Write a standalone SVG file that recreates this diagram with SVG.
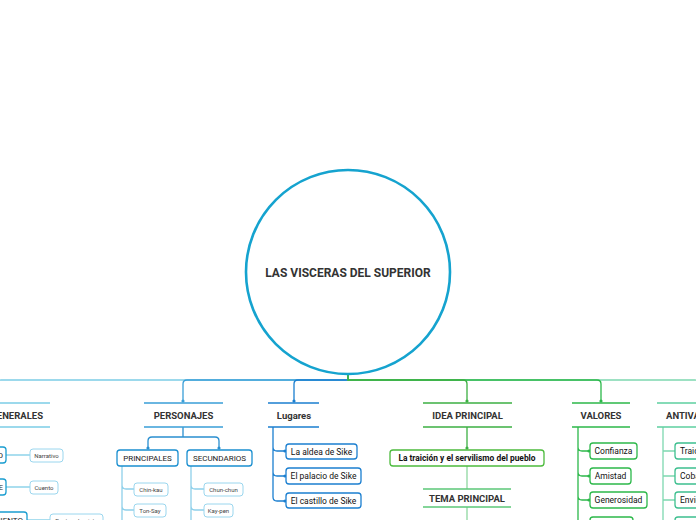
<svg xmlns="http://www.w3.org/2000/svg" width="696" height="520" viewBox="0 0 696 520">
<style>
text{font-family:Roboto,"Liberation Sans",sans-serif;fill:#333}
.h{font-size:9.5px;font-weight:bold;text-anchor:middle}
.b{font-size:8px;text-anchor:middle;fill:#222}
.l{font-size:8.5px;text-anchor:middle;fill:#111}
.s{font-size:6px;text-anchor:middle;fill:#444}
.c{fill:none;stroke-width:1.3}
.box{fill:#fff;stroke-width:1.3}
.sb{fill:#fff;stroke-width:1}
</style>
<rect width="696" height="520" fill="#fff"/>
<g id="connectors">
<path class="c" stroke="#7ccde6" d="M348,374V380H1Q-3,380 -3,384V402"/>
<path class="c" stroke="#3a9fd8" d="M348,374V380H187Q183,380 183,384V401"/>
<path class="c" stroke="#1b7fd0" d="M348,374V380H298Q294,380 294,384V401"/>
<path class="c" stroke="#7dd8b0" d="M348,374V380H695Q699,380 699,384V401"/>
<path class="c" stroke="#2cb84a" d="M348,374V380H597Q601,380 601,384V401"/>
<path class="c" stroke="#3cb043" d="M348,374V380H463Q467,380 467,384V401"/>
<circle cx="183" cy="401" r="1.6" fill="#3a9fd8"/>
<circle cx="294" cy="401" r="1.6" fill="#1b7fd0"/>
<circle cx="467" cy="401" r="1.6" fill="#3cb043"/>
<circle cx="601" cy="401" r="1.6" fill="#2cb84a"/>
<path class="c" stroke="#8fd3ea" d="M6,455H30M6,487H30M27,520H50"/>
<path class="c" stroke="#2a8fd0" d="M183,427V437H152Q148,437 148,441V448M183,437H215Q219,437 219,441V448"/>
<circle cx="148" cy="448" r="1.6" fill="#2a8fd0"/>
<circle cx="219" cy="448" r="1.6" fill="#2a8fd0"/>
<path class="c" stroke="#8fd0ea" d="M122,466V520M122,485Q122,489 126,489H134M122,506Q122,510 126,510H134"/>
<path class="c" stroke="#8fd0ea" d="M191,466V520M191,485Q191,489 195,489H204M191,506Q191,510 195,510H204"/>
<path class="c" stroke="#1b7fd0" d="M273,427V497Q273,501 277,501H285M273,447Q273,451 277,451H285M273,472Q273,476 277,476H285"/>
<g fill="#1b7fd0"><circle cx="285" cy="451" r="1.6"/><circle cx="285" cy="476" r="1.6"/><circle cx="285" cy="501" r="1.6"/></g>
<path class="c" stroke="#3cb043" d="M467,427V448"/>
<circle cx="467" cy="448" r="1.6" fill="#3cb043"/>
<path class="c" stroke="#8fd8a0" d="M467,466V489M467,507V520"/>
<path class="c" stroke="#2cb84a" d="M578,427V520M578,447Q578,451 582,451H589M578,472Q578,476 582,476H589M578,496Q578,500 582,500H589"/>
<g fill="#2cb84a"><circle cx="589" cy="451" r="1.6"/><circle cx="589" cy="476" r="1.6"/><circle cx="589" cy="500" r="1.6"/></g>
<path class="c" stroke="#7dd8b0" d="M663,427V520M663,451H675M663,476H675M663,500H675"/>
</g>
<g id="root">
<circle cx="348" cy="272" r="102" fill="#fff" stroke="#15a3cf" stroke-width="2.6"/>
<text x="348" y="276.5" style="font-size:12px;font-weight:bold;text-anchor:middle">LAS VISCERAS DEL SUPERIOR</text>
</g>
<g id="generales">
<path class="c" stroke="#7ccde6" d="M-60,403H50M-60,427H50"/>
<text x="43" y="418.5" style="font-size:9.5px;font-weight:bold;text-anchor:end">DATOS GENERALES</text>
</g>
<g id="genero"><rect class="box" stroke="#1a9dd0" x="-50" y="447" width="56" height="16" rx="3"/><text x="3" y="458" style="font-size:8px;text-anchor:end;fill:#222">GÉNERO</text></g>
<g id="especie"><rect class="box" stroke="#1a9dd0" x="-50" y="479" width="56" height="16" rx="3"/><text x="3" y="490" style="font-size:8px;text-anchor:end;fill:#222">ESPECIE</text></g>
<g id="movimiento"><rect class="box" stroke="#1a9dd0" x="-40" y="512" width="67" height="16" rx="3"/><text x="23" y="523" style="font-size:8px;text-anchor:end;fill:#222">MOVIMIENTO</text></g>
<g id="narrativo"><rect class="sb" stroke="#9ad6ee" x="30" y="449" width="33" height="13" rx="3"/><text class="s" x="46.5" y="457.5">Narrativo</text></g>
<g id="cuento"><rect class="sb" stroke="#9ad6ee" x="30" y="481" width="28" height="13" rx="3"/><text class="s" x="44" y="489.5">Cuento</text></g>
<g id="postmodernista"><rect class="sb" stroke="#9ad6ee" x="50" y="514" width="53" height="13" rx="3"/><text class="s" x="76.5" y="522.5">Postmodernista</text></g>
<g id="personajes">
<path class="c" stroke="#3a9fd8" d="M144,403H223M144,427H223"/>
<text class="h" x="183.5" y="418.5">PERSONAJES</text>
</g>
<g id="principales"><rect class="box" stroke="#1a8fd0" x="117" y="450" width="61" height="16" rx="3"/><text class="b" x="147.5" y="461">PRINCIPALES</text></g>
<g id="secundarios"><rect class="box" stroke="#1a8fd0" x="187" y="450" width="65" height="16" rx="3"/><text class="b" x="219.5" y="461">SECUNDARIOS</text></g>
<g id="chinkau"><rect class="sb" stroke="#9ad6ee" x="134" y="483" width="34" height="13" rx="3"/><text class="s" x="151" y="491.5">Chin-kau</text></g>
<g id="tonsay"><rect class="sb" stroke="#9ad6ee" x="134" y="504" width="32" height="13" rx="3"/><text class="s" x="150" y="512.5">Ton-Say</text></g>
<g id="chunchun"><rect class="sb" stroke="#9ad6ee" x="204" y="483" width="39" height="13" rx="3"/><text class="s" x="223.5" y="491.5">Chun-chun</text></g>
<g id="kaypen"><rect class="sb" stroke="#9ad6ee" x="204" y="504" width="29" height="13" rx="3"/><text class="s" x="218.5" y="512.5">Kay-pen</text></g>
<g id="lugares">
<path class="c" stroke="#1b7fd0" d="M268,403H319M268,427H319"/>
<text class="h" x="294" y="418.5">Lugares</text>
</g>
<g id="aldea"><rect class="box" stroke="#1b7fd0" x="286" y="444" width="71" height="15" rx="3"/><text class="l" x="321.5" y="454.7">La aldea de Sike</text></g>
<g id="palacio"><rect class="box" stroke="#1b7fd0" x="286" y="468" width="75" height="16" rx="3"/><text class="l" x="323.5" y="479.2">El palacio de Sike</text></g>
<g id="castillo"><rect class="box" stroke="#1b7fd0" x="286" y="493" width="75" height="15" rx="3"/><text class="l" x="323.5" y="503.7">El castillo de Sike</text></g>
<g id="idea">
<path class="c" stroke="#3cb043" d="M423,403H512M423,427H512"/>
<text class="h" x="467.5" y="418.5">IDEA PRINCIPAL</text>
</g>
<g id="traicion-pueblo"><rect class="box" stroke="#4cbb3c" x="390" y="450" width="154" height="16" rx="3"/><text x="467" y="461.2" style="font-size:8.4px;font-weight:bold;text-anchor:middle;fill:#111">La traición y el servilismo del pueblo</text></g>
<g id="tema">
<path class="c" stroke="#5cc878" d="M423,489H511M423,507H511"/>
<text class="h" x="467" y="501.5">TEMA PRINCIPAL</text>
</g>
<g id="valores">
<path class="c" stroke="#2cb84a" d="M572,403H630M572,427H630"/>
<text class="h" x="601" y="418.5">VALORES</text>
</g>
<g id="confianza"><rect class="box" stroke="#2cb84a" x="590" y="443" width="47" height="16" rx="3"/><text class="l" x="613.5" y="454">Confianza</text></g>
<g id="amistad"><rect class="box" stroke="#2cb84a" x="590" y="468" width="41" height="16" rx="3"/><text class="l" x="610.5" y="479">Amistad</text></g>
<g id="generosidad"><rect class="box" stroke="#2cb84a" x="590" y="492" width="57" height="16" rx="3"/><text class="l" x="618.5" y="503">Generosidad</text></g>
<g id="valor4"><rect class="box" stroke="#2cb84a" x="590" y="517" width="43" height="16" rx="3"/></g>
<g id="antivalores">
<path class="c" stroke="#5dcfa0" d="M657,403H760M657,427H760"/>
<text x="666" y="418.5" style="font-size:9.5px;font-weight:bold">ANTIVALORES</text>
</g>
<g id="traicion"><rect class="box" stroke="#3dbf8f" x="675" y="443" width="45" height="16" rx="3"/><text x="680" y="454" style="font-size:8.5px;fill:#111">Traición</text></g>
<g id="cobardia"><rect class="box" stroke="#3dbf8f" x="675" y="468" width="48" height="16" rx="3"/><text x="680" y="479" style="font-size:8.5px;fill:#111">Cobardía</text></g>
<g id="envidia"><rect class="box" stroke="#3dbf8f" x="675" y="492" width="42" height="16" rx="3"/><text x="680" y="503" style="font-size:8.5px;fill:#111">Envidia</text></g>
<g id="antivalor4"><rect class="box" stroke="#3dbf8f" x="675" y="517" width="42" height="16" rx="3"/></g>
</svg>
